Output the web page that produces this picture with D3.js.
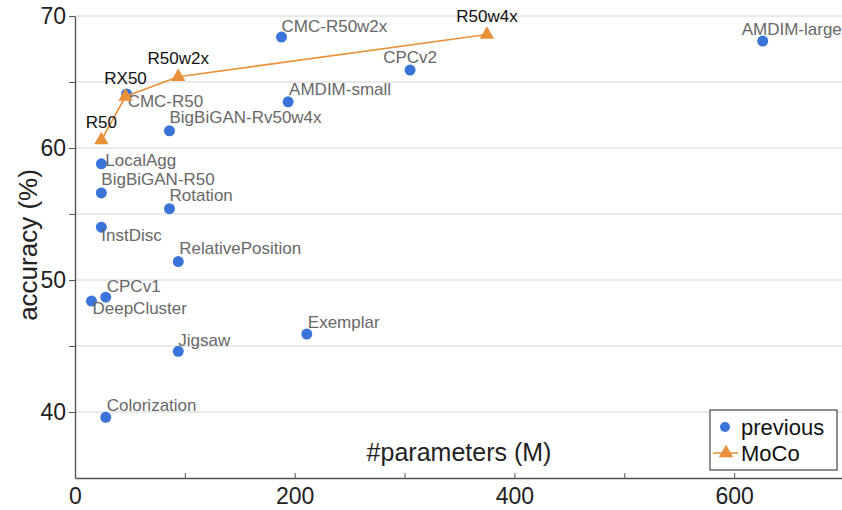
<!DOCTYPE html>
<html>
<head>
  <meta charset="utf-8">
  <title>MoCo vs previous</title>
  <script src="https://d3js.org/d3.v7.min.js"></script>
  <style>
    body { margin: 0; background: #fff; }
    svg { display: block; font-family: "Liberation Sans", Arial, sans-serif; }
  </style>
</head>
<body>
  <div id="chart"></div>

  <script>
    // previous methods: name, #params (M), accuracy (%)
    var prevNames = ["CMC-R50w2x", "AMDIM-large", "CPCv2", "AMDIM-small", "CMC-R50",
                     "BigBiGAN-Rv50w4x", "LocalAgg", "BigBiGAN-R50", "Rotation", "InstDisc",
                     "RelativePosition", "CPCv1", "DeepCluster", "Jigsaw", "Exemplar", "Colorization"];
    var prevParams = [188, 626, 305, 194, 47, 86, 24, 24, 86, 24, 94, 28, 15, 94, 211, 28];
    var prevAcc = [68.4, 68.1, 65.9, 63.5, 64.1, 61.3, 58.8, 56.6, 55.4, 54.0, 51.4, 48.7, 48.4, 44.6, 45.9, 39.6];

    // MoCo
    var mocoNames = ["R50", "RX50", "R50w2x", "R50w4x"];
    var mocoParams = [24, 46, 94, 375];
    var mocoAcc = [60.6, 63.9, 65.4, 68.6];

    // ticks
    var xTicks = [0, 100, 200, 300, 400, 500, 600];
    var xTickLabels = [0, 200, 400, 600];
    var yTicks = [40, 45, 50, 55, 60, 65, 70];
    var yTickLabels = [40, 50, 60, 70];

    // where each label sits relative to its marker: [dx, dy, anchor]
    var labelPos = {
      "CMC-R50w2x": [0, -11, "start"], "AMDIM-large": [-21, -12, "start"],
      "CPCv2": [0, -13, "middle"], "AMDIM-small": [1, -12, "start"],
      "CMC-R50": [1, 8, "start"], "BigBiGAN-Rv50w4x": [0, -13, "start"],
      "LocalAgg": [4, -3, "start"], "BigBiGAN-R50": [0, -13, "start"],
      "Rotation": [0, -13, "start"], "InstDisc": [0, 8, "start"],
      "RelativePosition": [1, -13, "start"], "CPCv1": [1, -11, "start"],
      "DeepCluster": [1, 7, "start"], "Jigsaw": [0, -11, "start"],
      "Exemplar": [1, -12, "start"], "Colorization": [1, -12, "start"]
    };

    var blue = "#3a74d9", orange = "#e8913a";
    var W = 842, H = 510;

    var prev = prevNames.map((n, i) => ({ name: n, x: prevParams[i], y: prevAcc[i] }));
    var moco = mocoNames.map((n, i) => ({ name: n, x: mocoParams[i], y: mocoAcc[i] }));

    var svg = d3.select("#chart").append("svg")
      .attr("width", W).attr("height", H);

    var x = d3.scaleLinear().domain([0, 700]).range([75, 844]);
    var y = d3.scaleLinear().domain([35, 70]).range([478, 16]);

    // gridlines
    svg.append("g").selectAll("line")
      .data(yTicks).enter().append("line")
      .attr("x1", x(0)).attr("x2", W)
      .attr("y1", d => y(d)).attr("y2", d => y(d))
      .attr("stroke", "#e2e2e2").attr("stroke-width", 1.3);

    // y axis
    var yAxis = svg.append("g")
      .attr("transform", "translate(" + x(0) + ",0)")
      .call(d3.axisLeft(y).tickValues(yTicks).tickSize(6).tickSizeOuter(0).tickPadding(3)
        .tickFormat(d => yTickLabels.includes(d) ? d : ""));
    yAxis.select(".domain").attr("stroke", "#555").attr("stroke-width", 1.4);
    yAxis.selectAll(".tick line").attr("stroke", "#555");
    yAxis.selectAll("text").attr("font-size", 23).attr("fill", "#222");

    // x axis, ticks pointing up
    var xAxis = svg.append("g")
      .attr("transform", "translate(0," + y(35) + ")")
      .call(d3.axisBottom(x).tickValues(xTicks).tickSize(-5).tickSizeOuter(0).tickPadding(10)
        .tickFormat(d => xTickLabels.includes(d) ? d : ""));
    xAxis.select(".domain").attr("stroke", "#555").attr("stroke-width", 1.6);
    xAxis.selectAll(".tick line").attr("stroke", "#555");
    xAxis.selectAll("text").attr("font-size", 23).attr("fill", "#222");

    // axis titles
    svg.append("text")
      .attr("transform", "translate(28," + 245 + ") rotate(-90)")
      .attr("text-anchor", "middle").attr("dominant-baseline", "central")
      .attr("font-size", 26).attr("fill", "#222")
      .text("accuracy (%)");
    svg.append("text")
      .attr("x", 459).attr("y", 452)
      .attr("text-anchor", "middle").attr("dominant-baseline", "central")
      .attr("font-size", 25).attr("fill", "#222")
      .text("#parameters (M)");

    // previous points
    svg.append("g").selectAll("circle")
      .data(prev).enter().append("circle")
      .attr("cx", d => x(d.x)).attr("cy", d => y(d.y)).attr("r", 5.5)
      .attr("fill", blue);

    svg.append("g").selectAll("text")
      .data(prev).enter().append("text")
      .attr("x", d => x(d.x) + labelPos[d.name][0])
      .attr("y", d => y(d.y) + labelPos[d.name][1])
      .attr("text-anchor", d => labelPos[d.name][2])
      .attr("dominant-baseline", "central")
      .attr("font-size", 17).attr("fill", "#686868")
      .text(d => d.name);

    // MoCo line + triangles
    var line = d3.line().x(d => x(d.x)).y(d => y(d.y));
    svg.append("path").datum(moco)
      .attr("d", line).attr("fill", "none")
      .attr("stroke", orange).attr("stroke-width", 1.6);

    var tri = d3.symbol().type(d3.symbolTriangle).size(90);
    svg.append("g").selectAll("path")
      .data(moco).enter().append("path")
      .attr("d", tri)
      .attr("transform", d => "translate(" + x(d.x) + "," + y(d.y) + ")")
      .attr("fill", orange);

    svg.append("g").selectAll("text")
      .data(moco).enter().append("text")
      .attr("x", d => x(d.x)).attr("y", d => y(d.y) - 18)
      .attr("text-anchor", "middle").attr("dominant-baseline", "central")
      .attr("font-size", 17).attr("fill", "#111")
      .text(d => d.name);

    // legend
    var lg = svg.append("g").attr("transform", "translate(710,410)");
    lg.append("rect").attr("width", 127).attr("height", 60)
      .attr("fill", "#fff").attr("stroke", "#444").attr("stroke-width", 1.2);
    lg.append("circle").attr("cx", 15).attr("cy", 17).attr("r", 5).attr("fill", blue);
    lg.append("text").attr("x", 31).attr("y", 17).attr("dominant-baseline", "central")
      .attr("font-size", 22).attr("fill", "#111").text("previous");
    lg.append("line").attr("x1", 3).attr("x2", 28).attr("y1", 43).attr("y2", 43)
      .attr("stroke", orange).attr("stroke-width", 1.6);
    lg.append("path").attr("d", tri).attr("transform", "translate(16,43)").attr("fill", orange);
    lg.append("text").attr("x", 31).attr("y", 43).attr("dominant-baseline", "central")
      .attr("font-size", 22).attr("fill", "#111").text("MoCo");
  </script>
</body>
</html>
